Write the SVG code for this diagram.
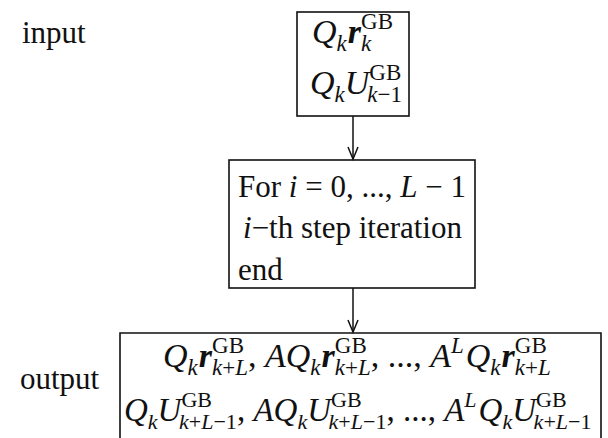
<svg xmlns="http://www.w3.org/2000/svg" width="608" height="438" viewBox="0 0 608 438">
<defs>
<style>
.box{fill:none;stroke:#111;stroke-width:1.6}
.conn{stroke:#111;stroke-width:1.5;fill:none}
.t{font-family:"Liberation Serif","Times New Roman",serif;font-size:31px;fill:#111}
.m{font-family:"Liberation Serif","Times New Roman",serif;font-size:34px;fill:#111}
.m2{font-size:33px}
.i{font-style:italic}
.bi{font-style:italic;font-weight:bold}
.s{font-size:23px}
.m2 .s{font-size:22px}
</style>
<marker id="arr" viewBox="-14 -8 16 16" refX="0" refY="0" markerWidth="16" markerHeight="16" markerUnits="userSpaceOnUse" orient="auto" overflow="visible">
<path d="M-12,-5 L0,0 L-12,5" fill="none" stroke="#111" stroke-width="1.5"/>
</marker>
</defs>

<g id="labels">
<text class="t" x="22" y="43">input</text>
<text class="t" x="20" y="389">output</text>
</g>

<g id="connectors">
<line class="conn" x1="353" y1="116" x2="353" y2="159" marker-end="url(#arr)"/>
<line class="conn" x1="353" y1="288" x2="353" y2="332" marker-end="url(#arr)"/>
</g>

<g id="node-input">
<rect class="box" x="297" y="12" width="112" height="104"/>
<text class="m" x="312" y="43"><tspan class="i">Q</tspan><tspan class="s i" dy="8">k</tspan><tspan class="bi" dx="1" dy="-8">r</tspan><tspan class="s" dy="-14">GB</tspan><tspan class="s i" dx="-32" dy="22">k</tspan></text>
<text class="m" x="310" y="94"><tspan class="i">Q</tspan><tspan class="s i" dy="8">k</tspan><tspan class="i" dy="-8">U</tspan><tspan class="s" dy="-14">GB</tspan><tspan class="s i" dx="-34" dy="22">k</tspan><tspan class="s">−1</tspan></text>
</g>

<g id="node-loop">
<rect class="box" x="229" y="160" width="246" height="128"/>
<text class="t" x="238" y="197">For <tspan class="i">i</tspan> = 0, ..., <tspan class="i">L</tspan> − 1</text>
<text class="t" x="243" y="238"><tspan class="i">i</tspan>−th step iteration</text>
<text class="t" x="238" y="280">end</text>
</g>

<g id="node-output">
<path class="box" d="M120,438 V333 H601 V438"/>
<text class="m" x="163" y="367"><tspan class="i">Q</tspan><tspan class="s i" dy="8">k</tspan><tspan class="bi" dx="1" dy="-8">r</tspan><tspan class="s" dy="-14">GB</tspan><tspan class="s i" dx="-32" dy="22">k</tspan><tspan class="s">+</tspan><tspan class="s i">L</tspan><tspan dy="-8">, </tspan><tspan class="i">A</tspan><tspan class="i">Q</tspan><tspan class="s i" dy="8">k</tspan><tspan class="bi" dx="1" dy="-8">r</tspan><tspan class="s" dy="-14">GB</tspan><tspan class="s i" dx="-32" dy="22">k</tspan><tspan class="s">+</tspan><tspan class="s i">L</tspan><tspan dy="-8">, ..., </tspan><tspan class="i">A</tspan><tspan class="s i" dy="-14">L</tspan><tspan class="i" dx="2" dy="14">Q</tspan><tspan class="s i" dy="8">k</tspan><tspan class="bi" dx="1" dy="-8">r</tspan><tspan class="s" dy="-14">GB</tspan><tspan class="s i" dx="-32" dy="22">k</tspan><tspan class="s">+</tspan><tspan class="s i">L</tspan></text>
<text class="m m2" x="124" y="421"><tspan class="i">Q</tspan><tspan class="s i" dy="8">k</tspan><tspan class="i" dy="-8">U</tspan><tspan class="s" dy="-14">GB</tspan><tspan class="s i" dx="-33" dy="22">k</tspan><tspan class="s">+</tspan><tspan class="s i">L</tspan><tspan class="s">−1</tspan><tspan dy="-8">, </tspan><tspan class="i">A</tspan><tspan class="i">Q</tspan><tspan class="s i" dy="8">k</tspan><tspan class="i" dy="-8">U</tspan><tspan class="s" dy="-14">GB</tspan><tspan class="s i" dx="-33" dy="22">k</tspan><tspan class="s">+</tspan><tspan class="s i">L</tspan><tspan class="s">−1</tspan><tspan dy="-8">, ..., </tspan><tspan class="i">A</tspan><tspan class="s i" dy="-14">L</tspan><tspan class="i" dx="2" dy="14">Q</tspan><tspan class="s i" dy="8">k</tspan><tspan class="i" dy="-8">U</tspan><tspan class="s" dy="-14">GB</tspan><tspan class="s i" dx="-33" dy="22">k</tspan><tspan class="s">+</tspan><tspan class="s i">L</tspan><tspan class="s">−1</tspan></text>
</g>
</svg>
